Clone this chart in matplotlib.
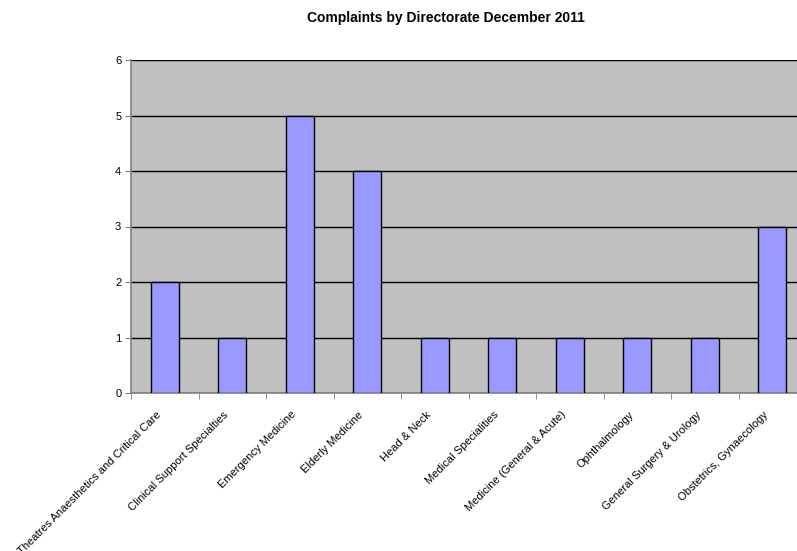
import numpy as np
from matplotlib import pyplot as plt
from matplotlib import transforms

directorates = ['Theatres Anaesthetics and Critical Care', 'Clinical Support Specialties',
                'Emergency Medicine', 'Elderly Medicine', 'Head & Neck', 'Medical Specialities',
                'Medicine (General & Acute)', 'Ophthalmology', 'General Surgery & Urology',
                'Obstetrics, Gynaecology']
complaints = [2, 1, 5, 4, 1, 1, 1, 1, 1, 3]

plt.rcParams['font.family'] = ['Liberation Sans', 'DejaVu Sans']

fig = plt.figure(figsize=(7.97, 5.51), dpi=100)
ax = fig.add_axes([131/797, 1-393/551, 675/797, 333/551])

x = np.arange(len(directorates))
ax.set_axisbelow(True)
ax.bar(x, complaints, width=0.41, color='#9999FF', edgecolor='black', linewidth=1.0, zorder=3)

ax.set_facecolor('#C0C0C0')
ax.set_xlim(-0.5, len(directorates)-0.5)
ax.set_ylim(0, 6)
ax.set_yticks(range(7))
ax.yaxis.grid(True, color='black', linewidth=1.0)

ax.set_xticks(x)
ax.set_xticklabels(directorates, rotation=45, ha='right', va='top', rotation_mode='anchor', fontsize=8)
ax.set_xticks(np.arange(-0.5, len(directorates)), minor=True)
ax.tick_params(axis='x', which='major', length=0, pad=9)
ax.tick_params(axis='x', which='minor', length=4, color='#808080')
ax.tick_params(axis='y', length=4, color='#808080', labelsize=8, pad=3)

# nudge the slanted labels a little left/down like the original
shift = transforms.ScaledTranslation(-9/100, -4/100, fig.dpi_scale_trans)
for lab in ax.get_xticklabels():
    lab.set_transform(lab.get_transform() + shift)

for s in ['top', 'right']:
    ax.spines[s].set_visible(False)
for s in ['left', 'bottom']:
    ax.spines[s].set_color('#808080')
    ax.spines[s].set_linewidth(1.2)

fig.text(446/797, 1-18/551, 'Complaints by Directorate December 2011', ha='center', va='center',
         fontsize=10, fontweight='bold')

fig.savefig('out.png', dpi=100)
plt.close()
